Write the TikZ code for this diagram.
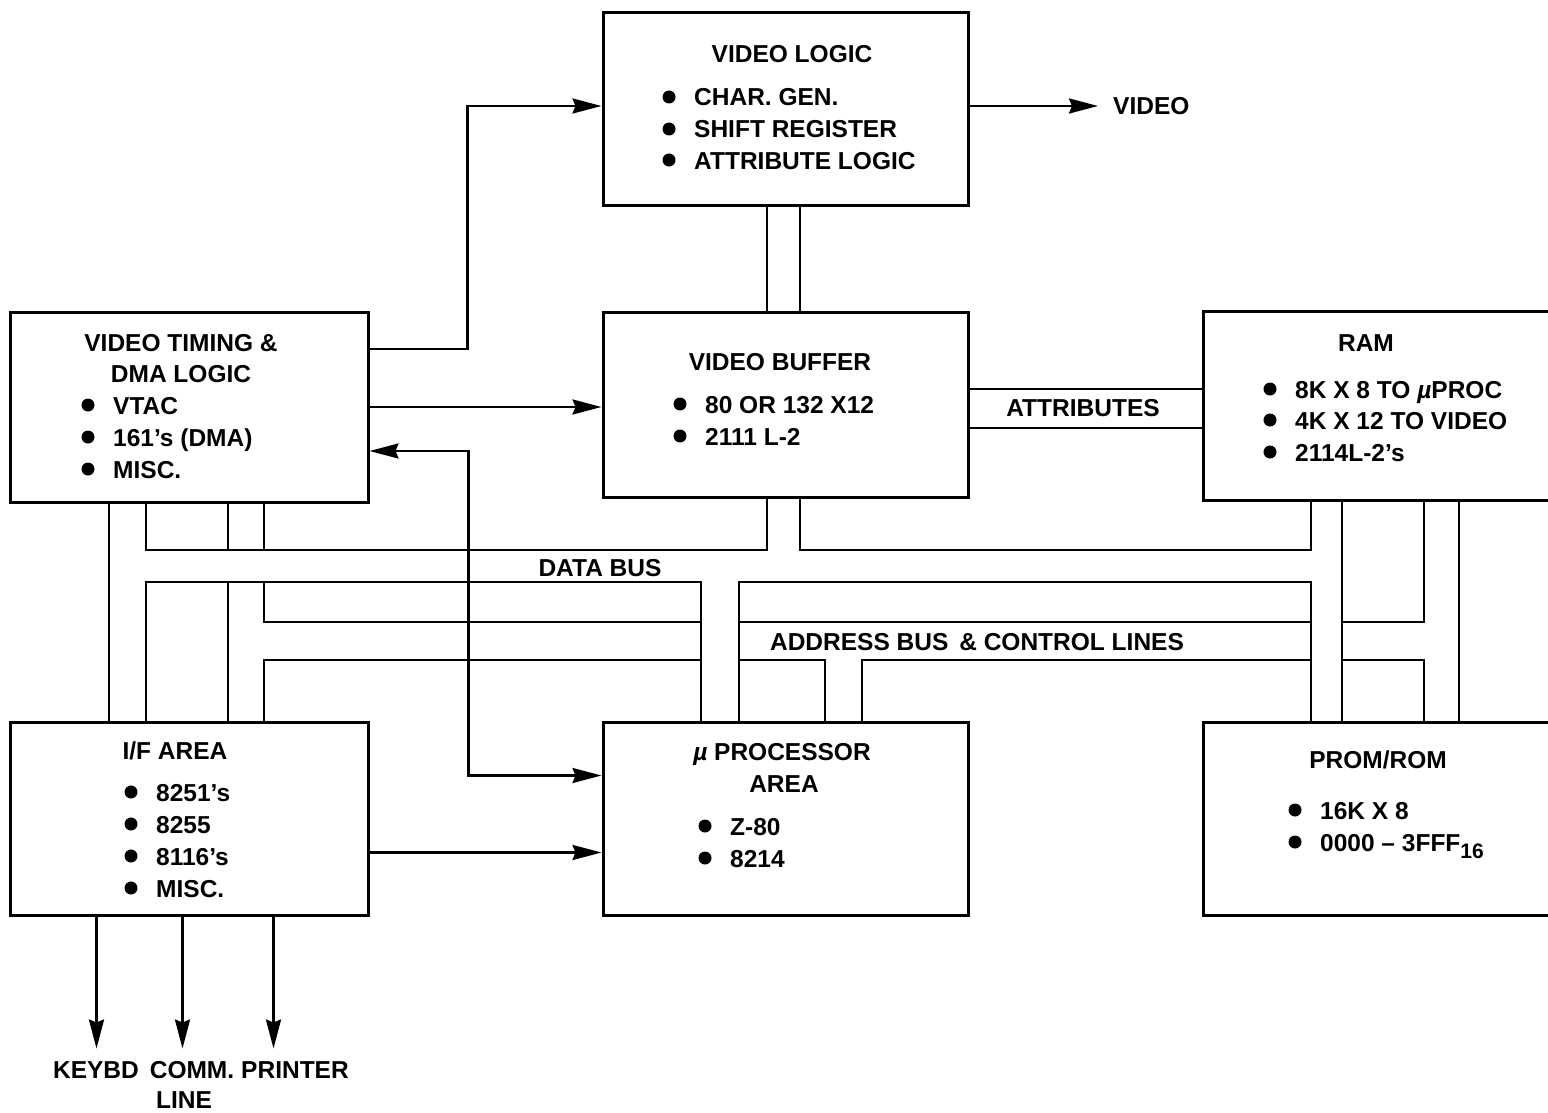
\documentclass[tikz,border=0pt]{standalone}
\usepackage{fontspec}
\setmainfont{Liberation Sans}
\usetikzlibrary{arrows.meta}
\newcommand{\blk}[5]{\node[box, minimum width={(#4-#2)*1pt}, minimum height={(#5-#3)*1pt}] (#1) at ({(#2+#4)/2},{(#3+#5)/2}) {};}
\newcommand{\bitem}[4]{\node[dot] (#1d) at (#2,#3) {}; \node[txt, anchor=base west] (#1) at (#2+25,#3+9) {#4};}
\newcommand{\ttl}[4]{\node[txt, anchor=base] (#1) at (#2,#3+9) {#4};}
\begin{document}
\begin{tikzpicture}[x=1pt,y=-1pt,
  box/.style={draw, line width=3pt, rectangle, inner sep=0},
  bus/.style={line width=2.5pt},
  arr/.style={line width=2.5pt,-{Stealth[length=29pt,width=15pt,inset=3pt]}},
  arrb/.style={line width=2.5pt,{Stealth[length=29pt,width=15pt,inset=3pt]}-{Stealth[length=29pt,width=15pt,inset=3pt]}},
  txt/.style={inner sep=0, font=\fontsize{24.5}{29}\selectfont\bfseries},
  dot/.style={circle, fill, inner sep=0, minimum size=13pt}]
\useasboundingbox (0,0) rectangle (1548,1113);
\clip (0,0) rectangle (1548,1113);

% boxes
\blk{vlogic}{603}{13}{968}{205}
\blk{timing}{10}{312}{368}{502}
\blk{vbuf}{603}{312}{968}{497}
\blk{ram}{1203}{311}{1575}{500}
\blk{iface}{10}{722}{368}{915}
\blk{uproc}{603}{722}{968}{915}
\blk{prom}{1203}{722}{1575}{915}

% texts: video logic
\ttl{vlt}{792}{54}{VIDEO LOGIC}
\bitem{vla}{669}{97}{CHAR. GEN.}
\bitem{vlb}{669}{129}{SHIFT REGISTER}
\bitem{vlc}{669}{160}{ATTRIBUTE LOGIC}
% timing
\ttl{tmt}{181}{342}{VIDEO TIMING \&}
\ttl{tmu}{181}{373}{DMA LOGIC}
\bitem{tma}{88}{405}{VTAC}
\bitem{tmb}{88}{437}{161’s (DMA)}
\bitem{tmc}{88}{469}{MISC.}
% video buffer
\ttl{vbt}{780}{361}{VIDEO BUFFER}
\bitem{vba}{680}{404}{80 OR 132 X12}
\bitem{vbb}{680}{436}{2111 L-2}
% ram
\ttl{rmt}{1366}{342}{RAM}
\bitem{rma}{1270}{389}{8K X 8 TO \textit{µ}PROC}
\bitem{rmb}{1270}{420}{4K X 12 TO VIDEO}
\bitem{rmc}{1270}{452}{2114L-2’s}
% i/f
\ttl{ift}{175}{750}{I/F AREA}
\bitem{ifa}{131}{792}{8251’s}
\bitem{ifb}{131}{824}{8255}
\bitem{ifc}{131}{856}{8116’s}
\bitem{ifd}{131}{888}{MISC.}
% uproc
\ttl{upt}{782}{751}{\textit{µ} PROCESSOR}
\ttl{upu}{784}{783}{AREA}
\bitem{upa}{705}{826}{Z-80}
\bitem{upb}{705}{858}{8214}
% prom
\ttl{prt}{1378}{759}{PROM/ROM}
\bitem{pra}{1295}{810}{16K X 8}
\bitem{prb}{1295}{842}{0000 – 3FFF\raisebox{-7pt}{\fontsize{21}{21}\selectfont 16}}

% bus labels
\ttl{dbus}{600}{567}{DATA BUS}
\ttl{abus}{977}{641}{ADDRESS BUS \,\& CONTROL LINES}
\ttl{attr}{1083}{407}{ATTRIBUTES}

% outside labels
\node[txt, anchor=west] (video) at (1113,106) {VIDEO};
\ttl{kb}{96}{1069}{KEYBD}
\ttl{cm}{192}{1069}{COMM.}
\ttl{cl}{184}{1099}{LINE}
\ttl{pr}{295}{1069}{PRINTER}

% arrows
\draw[arr, shorten >=15pt] ([yshift=3pt]vlogic.east) -- ([yshift=3pt]vlogic.east -| video.west);
\draw[arr] ([yshift=58pt]timing.east) -- ++(98,0) |- ([yshift=3pt]vlogic.west);
\draw[arr] (timing.east) -- (timing.east -| vbuf.west);
\draw[arrb] ([yshift=-44pt]timing.east) -- ++(99,0) |- ([yshift=43pt]uproc.west);
\draw[arr] ([yshift=-34pt]iface.east) -- ([yshift=-34pt]uproc.west);
\draw[arr] ([xshift=88pt]iface.south west) -- ++(0,132);
\draw[arr] ([xshift=174pt]iface.south west) -- ++(0,132);
\draw[arr] ([xshift=265pt]iface.south west) -- ++(0,132);

% video logic - buffer
\draw[bus] (767,205) -- (767,312);
\draw[bus] (800,205) -- (800,312);
% attributes
\draw[bus] (968,389) -- (1203,389);
\draw[bus] (968,428) -- (1203,428);

% left buses
\draw[bus] (109,502) -- (109,722);
\draw[bus] (146,502) -- (146,550) -- (767,550) -- (767,497);
\draw[bus] (228,502) -- (228,550);
\draw[bus] (264,502) -- (264,550);
\draw[bus] (146,722) -- (146,582) -- (701,582) -- (701,722);
\draw[bus] (228,582) -- (228,722);
\draw[bus] (264,582) -- (264,622) -- (701,622);
\draw[bus] (264,722) -- (264,660) -- (701,660);
% right buses
\draw[bus] (800,497) -- (800,550) -- (1311,550) -- (1311,500);
\draw[bus] (739,722) -- (739,582) -- (1311,582) -- (1311,722);
\draw[bus] (739,622) -- (1311,622);
\draw[bus] (825,722) -- (825,660) -- (739,660);
\draw[bus] (862,722) -- (862,660) -- (1311,660);
\draw[bus] (1342,500) -- (1342,722);
\draw[bus] (1342,622) -- (1424,622) -- (1424,500);
\draw[bus] (1342,660) -- (1424,660) -- (1424,722);
\draw[bus] (1459,500) -- (1459,722);
\end{tikzpicture}
\end{document}
